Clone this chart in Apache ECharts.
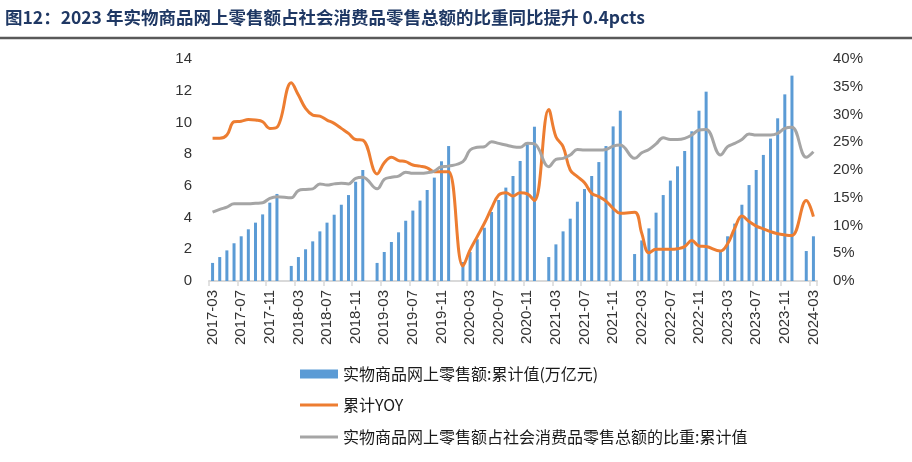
<!DOCTYPE html>
<html>
<head>
<meta charset="utf-8">
<script src="https://cdn.jsdelivr.net/npm/echarts@6/dist/echarts.min.js"></script>
<style>
html,body{margin:0;padding:0;background:#fff;}
#chart{width:912px;height:462px;}
</style>
</head>
<body>
<div id="chart"></div>
<script>
var titleText = '图12：2023 年实物商品网上零售额占社会消费品零售总额的比重同比提升 0.4pcts';
var seriesNames = ['实物商品网上零售额:累计值(万亿元)', '累计YOY', '实物商品网上零售额占社会消费品零售总额的比重:累计值'];

var categories = [
  '2017-03','2017-04','2017-05','2017-06','2017-07','2017-08','2017-09','2017-10','2017-11','2017-12',
  '2018-01','2018-02','2018-03','2018-04','2018-05','2018-06','2018-07','2018-08','2018-09','2018-10','2018-11','2018-12',
  '2019-01','2019-02','2019-03','2019-04','2019-05','2019-06','2019-07','2019-08','2019-09','2019-10','2019-11','2019-12',
  '2020-01','2020-02','2020-03','2020-04','2020-05','2020-06','2020-07','2020-08','2020-09','2020-10','2020-11','2020-12',
  '2021-01','2021-02','2021-03','2021-04','2021-05','2021-06','2021-07','2021-08','2021-09','2021-10','2021-11','2021-12',
  '2022-01','2022-02','2022-03','2022-04','2022-05','2022-06','2022-07','2022-08','2022-09','2022-10','2022-11','2022-12',
  '2023-01','2023-02','2023-03','2023-04','2023-05','2023-06','2023-07','2023-08','2023-09','2023-10','2023-11','2023-12',
  '2024-01','2024-02','2024-03'
];

// 实物商品网上零售额:累计值(万亿元)
var onlineSales = [
  1.14, 1.51, 1.93, 2.38, 2.82, 3.26, 3.68, 4.20, 4.94, 5.49,
  null, 0.95, 1.51, 2.00, 2.50, 3.13, 3.68, 4.18, 4.81, 5.42, 6.26, 7.00,
  null, 1.14, 1.83, 2.46, 3.07, 3.80, 4.44, 5.07, 5.74, 6.52, 7.55, 8.51,
  null, 1.20, 1.83, 2.63, 3.36, 4.35, 5.11, 5.89, 6.62, 7.57, 8.62, 9.73,
  null, 1.51, 2.31, 3.13, 3.93, 5.00, 5.80, 6.62, 7.50, 8.51, 9.75, 10.74,
  null, 1.70, 2.56, 3.32, 4.31, 5.42, 6.33, 7.23, 8.20, 9.44, 10.74, 11.94,
  null, 1.91, 2.82, 3.62, 4.81, 6.05, 7.00, 7.95, 8.98, 10.26, 11.77, 12.95,
  null, 1.89, 2.82
];

// 累计YOY (%)
var yoy = [
  25.7, 25.7, 26.3, 28.7, 28.8, 29.1, 29.0, 28.7, 27.5, 27.7,
  null, 35.7, 33.5, 31.1, 29.9, 29.7, 29.0, 28.4, 27.5, 26.6, 25.5, 25.4,
  null, 19.3, 21.3, 22.3, 21.7, 21.5, 20.9, 20.7, 20.4, 19.7, 19.7, 19.7,
  null, 2.7, 5.6, 8.0, 10.4, 13.1, 15.5, 15.9, 15.3, 15.9, 15.7, 14.5,
  null, 30.9, 26.0, 24.2, 20.0, 18.8, 17.7, 15.8, 15.2, 14.4, 13.1, 12.2,
  null, 12.4, 8.6, 5.1, 5.7, 5.7, 5.7, 5.8, 6.2, 7.3, 6.3, 6.2,
  null, 5.4, 6.7, 9.5, 11.7, 10.7, 9.9, 9.4, 8.9, 8.5, 8.3, 8.2,
  null, 14.5, 11.6
];

// 比重:累计值 (%)
var shareRatio = [
  12.4, 12.9, 13.3, 13.9, 13.9, 13.9, 14.0, 14.1, 14.9, 15.2,
  null, 15.0, 16.3, 16.5, 16.6, 17.5, 17.3, 17.5, 17.6, 17.5, 18.5, 18.7,
  null, 16.6, 18.3, 18.7, 18.9, 19.6, 19.4, 19.4, 19.5, 19.8, 20.6, 20.7,
  null, 21.5, 23.6, 24.1, 24.2, 25.1, 24.8, 24.5, 24.2, 24.1, 24.8, 24.7,
  null, 20.6, 21.9, 22.1, 22.7, 23.7, 23.6, 23.6, 23.6, 23.7, 24.3, 24.5,
  null, 22.1, 23.1, 23.7, 24.7, 25.8, 25.5, 25.5, 25.7, 26.3, 27.2, 27.3,
  null, 22.7, 24.2, 24.8, 25.5, 26.5, 26.3, 26.3, 26.3, 26.6, 27.5, 27.7,
  null, 22.3, 23.3
];

var leftAxis = {min: 0, max: 14, interval: 2};
var rightAxis = {min: 0, max: 40, interval: 5};

var FONT = '"Liberation Sans", "Noto Sans CJK SC", sans-serif';
var CJK = '"Noto Sans CJK SC", "Liberation Sans", sans-serif';

var chart = echarts.init(document.getElementById('chart'), null, {renderer: 'canvas'});
chart.setOption({
  animation: false,
  backgroundColor: '#ffffff',
  graphic: [
    {
      type: 'text', left: 5, top: 9,
      style: {text: titleText, fill: '#1F3864', font: 'bold 17.5px ' + CJK}
    },
    {
      type: 'line', shape: {x1: 0, y1: 38, x2: 912, y2: 38},
      style: {stroke: '#595959', lineWidth: 2.5}
    }
  ],
  grid: {left: 209, right: 95, top: 59, bottom: 181, containLabel: false},
  legend: [
    {
      orient: 'vertical', left: 300, top: 366, padding: 0,
      itemWidth: 38, itemHeight: 9,
      data: [{name: seriesNames[0], icon: 'rect'}],
      textStyle: {fontSize: 16, color: '#1a1a1a', fontFamily: CJK, lineHeight: 16}
    },
    {
      orient: 'vertical', left: 300, top: 397, padding: 0,
      itemWidth: 38, itemHeight: 3,
      data: [{name: seriesNames[1], icon: 'rect'}],
      textStyle: {fontSize: 16, color: '#1a1a1a', fontFamily: CJK, lineHeight: 16}
    },
    {
      orient: 'vertical', left: 300, top: 429, padding: 0,
      itemWidth: 38, itemHeight: 3,
      data: [{name: seriesNames[2], icon: 'rect'}],
      textStyle: {fontSize: 16, color: '#1a1a1a', fontFamily: CJK, lineHeight: 16}
    }
  ],
  xAxis: {
    type: 'category',
    data: categories,
    boundaryGap: true,
    axisLine: {lineStyle: {color: '#D9D9D9', width: 2}},
    axisTick: {show: true, interval: 3, length: 5, lineStyle: {color: '#D9D9D9', width: 1.5}},
    axisLabel: {interval: 3, rotate: 90, fontSize: 15, color: '#333', fontFamily: FONT, margin: 9}
  },
  yAxis: [
    {
      type: 'value', min: leftAxis.min, max: leftAxis.max, interval: leftAxis.interval,
      axisLine: {show: false}, axisTick: {show: false}, splitLine: {show: false},
      axisLabel: {fontSize: 15, color: '#333', fontFamily: FONT, margin: 17}
    },
    {
      type: 'value', min: rightAxis.min, max: rightAxis.max, interval: rightAxis.interval,
      position: 'right',
      axisLine: {show: false}, axisTick: {show: false}, splitLine: {show: false},
      axisLabel: {fontSize: 15, color: '#333', fontFamily: FONT, margin: 16, formatter: '{value}%'}
    }
  ],
  series: [
    {
      name: seriesNames[0], type: 'bar', data: onlineSales, yAxisIndex: 0,
      barWidth: 3, itemStyle: {color: '#5B9BD5'}
    },
    {
      name: seriesNames[1], type: 'line', data: yoy, yAxisIndex: 1,
      smooth: 0.4, connectNulls: true, showSymbol: false, symbol: 'none',
      lineStyle: {color: '#ED7D31', width: 3}, itemStyle: {color: '#ED7D31'}
    },
    {
      name: seriesNames[2], type: 'line', data: shareRatio, yAxisIndex: 1,
      smooth: 0.4, connectNulls: true, showSymbol: false, symbol: 'none',
      lineStyle: {color: '#A5A5A5', width: 3}, itemStyle: {color: '#A5A5A5'}
    }
  ]
});
</script>
</body>
</html>
